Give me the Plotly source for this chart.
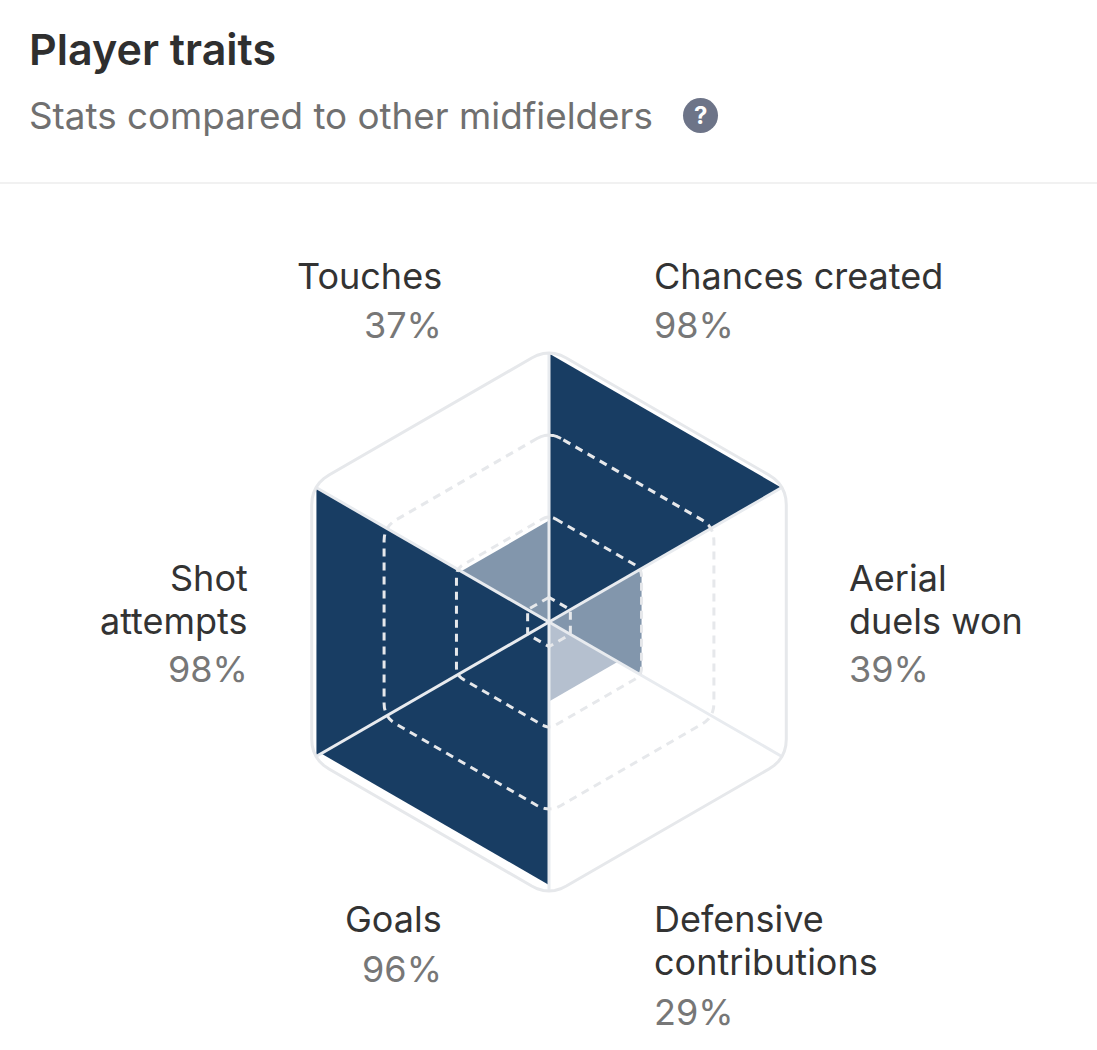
import math
import plotly.graph_objects as go

# Configuration
WIDTH = 1097
HEIGHT = 1050
CENTER_X = 549
CENTER_Y = 622
FULL_RADIUS = 274
FONT = "Inter"
LINE_STEP = 43
TEXT_PAD = 3  # annotations sit this far inside their anchor

TITLE = "Player traits"
SUBTITLE = "Stats compared to other midfielders"

# Clockwise from the top vertex
CATEGORIES = [["Chances created"], ["Aerial", "duels won"], ["Defensive", "contributions"],
              ["Goals"], ["Shot", "attempts"], ["Touches"]]
VALUES = [98, 39, 29, 96, 98, 37]
WEDGE_COLORS = ["#183d63", "#8296ac", "#b5c0cf", "#183d63", "#183d63", "#8296ac"]
RING_LEVELS = [9, 39, 69.5, 100]

# Label anchors in pixels: x, anchor, y of the first name line, y of the percentage
LABEL_SPOTS = [
    (655, "left", 276, 325),
    (850, "left", 578, 669),
    (655, "left", 919, 1012),
    (441, "right", 919, 969),
    (247, "right", 578, 669),
    (441, "right", 276, 325),
]


def px(x):
    return x / WIDTH


def py(y):
    return 1 - y / HEIGHT


def vertex_angle(i):
    """Angle in degrees of hexagon vertex i, going clockwise from the top."""
    return 90 - 60 * i


def rounded_ring(level, corner=0.073, steps=6):
    """Hexagon ring at the given level with softened corners, as polar points."""
    corners = []
    for i in range(6):
        a = math.radians(vertex_angle(i))
        corners.append((level * math.cos(a), level * math.sin(a)))

    r_out, theta_out = [], []
    for i in range(7):
        prev_c = corners[(i - 1) % 6]
        cur = corners[i % 6]
        next_c = corners[(i + 1) % 6]
        start = (cur[0] + (prev_c[0] - cur[0]) * corner, cur[1] + (prev_c[1] - cur[1]) * corner)
        end = (cur[0] + (next_c[0] - cur[0]) * corner, cur[1] + (next_c[1] - cur[1]) * corner)
        for s in range(steps + 1):
            t = s / steps
            x = (1 - t) ** 2 * start[0] + 2 * t * (1 - t) * cur[0] + t ** 2 * end[0]
            y = (1 - t) ** 2 * start[1] + 2 * t * (1 - t) * cur[1] + t ** 2 * end[1]
            r_out.append(math.hypot(x, y))
            theta_out.append(math.degrees(math.atan2(y, x)))
    return r_out, theta_out


fig = go.Figure()

# Wedges, each spans two neighbouring vertices
for i, value in enumerate(VALUES):
    fig.add_trace(go.Scatterpolar(
        r=[0, value, value, 0],
        theta=[0, vertex_angle(i), vertex_angle(i + 1), 0],
        mode="lines", fill="toself", fillcolor=WEDGE_COLORS[i],
        line=dict(width=0), hoverinfo="skip", cliponaxis=False,
    ))

# Spokes
for i in range(6):
    fig.add_trace(go.Scatterpolar(
        r=[0, 98.5], theta=[vertex_angle(i), vertex_angle(i)],
        mode="lines", line=dict(color="#e8ebef", width=3), hoverinfo="skip", cliponaxis=False,
    ))

# Rings, only the outer one is solid
for level in RING_LEVELS:
    ring_r, ring_theta = rounded_ring(level)
    outer = level == RING_LEVELS[-1]
    fig.add_trace(go.Scatterpolar(
        r=ring_r, theta=ring_theta, mode="lines",
        line=dict(color="#e6e8eb", width=3, dash="solid" if outer else "8px,6px"),
        hoverinfo="skip", cliponaxis=False,
    ))


def add_text(text, x, y, size, color, anchor="left", weight="normal"):
    shift = {"left": -TEXT_PAD, "right": TEXT_PAD, "center": 0}[anchor]
    fig.add_annotation(
        text=text, x=px(x), y=py(y), xref="paper", yref="paper", xshift=shift,
        xanchor=anchor, yanchor="middle", align=anchor, showarrow=False,
        font=dict(family=FONT, size=size, color=color, weight=weight),
    )


add_text(TITLE, 30, 49, 43, "#2f2f2f", weight=600)
add_text(SUBTITLE, 30, 115, 36.8, "#707070")

for name_lines, value, spot in zip(CATEGORIES, VALUES, LABEL_SPOTS):
    x, anchor, name_y, pct_y = spot
    for n, line in enumerate(name_lines):
        add_text(line, x, name_y + n * LINE_STEP, 36, "#333333", anchor)
    add_text(f"{value}%", x, pct_y, 36, "#777777", anchor)

# Help icon
fig.add_shape(type="circle", xref="paper", yref="paper", x0=px(683), x1=px(718), y0=py(133), y1=py(98),
              fillcolor="#6d7488", line=dict(width=0))
add_text("?", 700.5, 115, 24, "#ffffff", "center", 700)

# Separator under the header
fig.add_shape(type="line", xref="paper", yref="paper", x0=0, x1=1, y0=py(183), y1=py(183),
              line=dict(color="#f1f1f1", width=2))

fig.update_layout(
    width=WIDTH, height=HEIGHT, showlegend=False,
    margin=dict(l=0, r=0, t=0, b=0),
    paper_bgcolor="white", plot_bgcolor="white",
    polar=dict(
        bgcolor="white",
        domain=dict(x=[px(CENTER_X - FULL_RADIUS), px(CENTER_X + FULL_RADIUS)],
                    y=[py(CENTER_Y + FULL_RADIUS), py(CENTER_Y - FULL_RADIUS)]),
        radialaxis=dict(visible=False, range=[0, 100]),
        angularaxis=dict(visible=False, thetaunit="degrees", direction="counterclockwise", rotation=0),
    ),
)

# Page default body margin would shift the whole chart
fig.write_html("out.html", config={"displayModeBar": False},
               post_script="document.body.style.margin='0';")
